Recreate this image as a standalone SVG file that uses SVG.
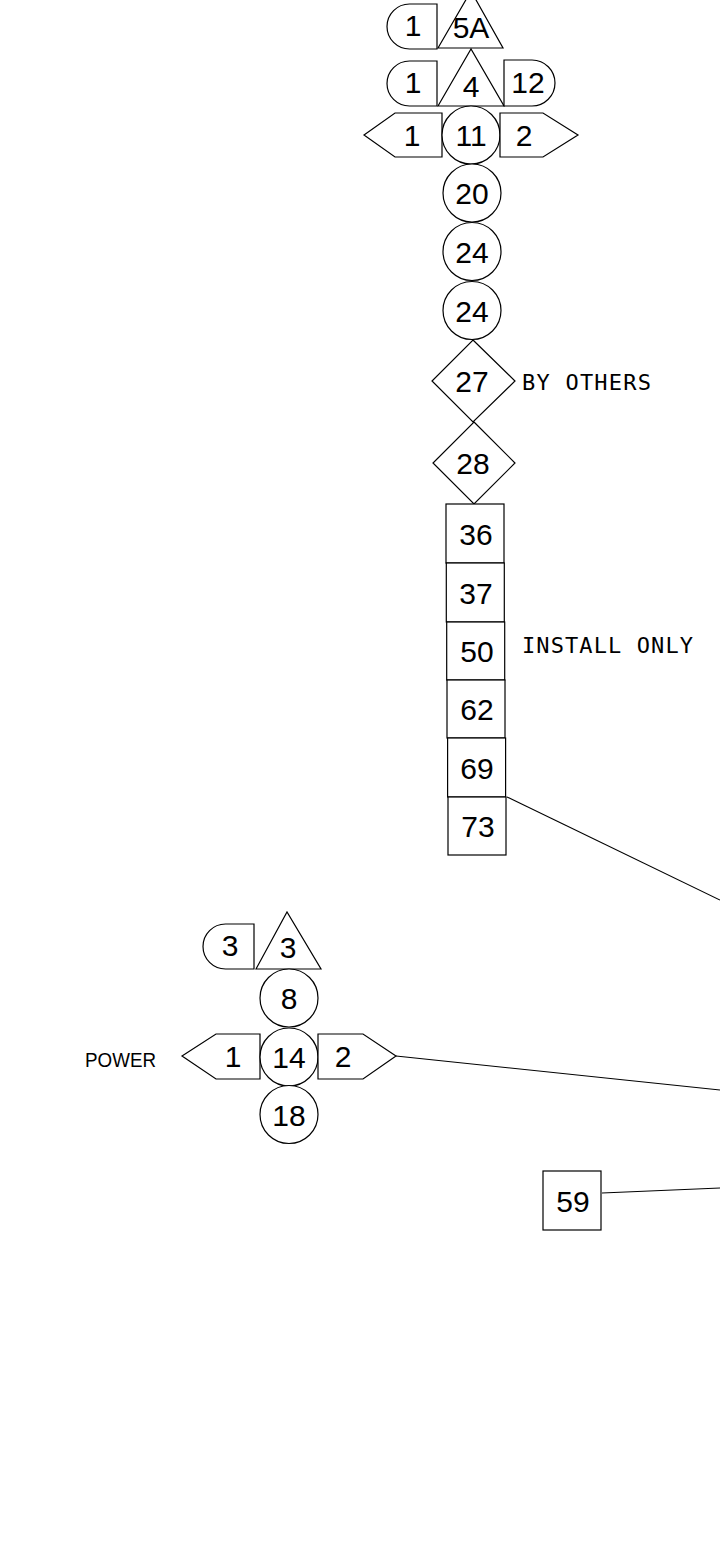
<svg xmlns="http://www.w3.org/2000/svg" width="720" height="1561" viewBox="0 0 720 1561">
<style>
.s{fill:#fff;stroke:#000;stroke-width:1.2}
.c{fill:none;stroke:#000;stroke-width:1.1}
.n{font-family:"Liberation Sans",Arial,sans-serif;font-size:30px;text-anchor:middle;fill:#000}
.l{font-family:"DejaVu Sans Mono",monospace;font-size:22px;fill:#000}
.p{font-family:"Liberation Sans",Arial,sans-serif;font-size:21px;fill:#000}
</style>
<rect width="720" height="1561" fill="#fff"/>
<g id="connectors">
<line class="c" x1="507" y1="797" x2="720" y2="900"/>
<line class="c" x1="396" y1="1056" x2="720" y2="1090"/>
<line class="c" x1="602" y1="1193" x2="720" y2="1188"/>
</g>
<g id="n1a"><path class="s" d="M437,4 H409.5 A22.5,22.5 0 0 0 409.5,49 H437 Z"/><text class="n" x="413" y="36">1</text></g>
<g id="n5A"><path class="s" d="M438,48 L471,-9 L503,48 Z"/><text class="n" x="471" y="38">5A</text></g>
<g id="n1b"><path class="s" d="M437,61 H409.5 A22.5,22.5 0 0 0 409.5,106 H437 Z"/><text class="n" x="413" y="93">1</text></g>
<g id="n4"><path class="s" d="M438,106 L471,49 L504,106 Z"/><text class="n" x="471" y="97">4</text></g>
<g id="n12"><path class="s" d="M504,60 H532 A23,23 0 0 1 532,106 H504 Z"/><text class="n" x="528" y="93">12</text></g>
<g id="n1c"><path class="s" d="M442,113 H395 L364,135 L395,157 H442 Z"/><text class="n" x="412" y="146">1</text></g>
<g id="n11"><circle class="s" cx="471" cy="135" r="29"/><text class="n" x="471" y="146">11</text></g>
<g id="n2a"><path class="s" d="M500,113 H543 L578,135 L543,157 H500 Z"/><text class="n" x="524" y="146">2</text></g>
<g id="n20"><circle class="s" cx="472" cy="193" r="29"/><text class="n" x="472" y="204">20</text></g>
<g id="n24a"><circle class="s" cx="472" cy="251.5" r="29"/><text class="n" x="472" y="262.5">24</text></g>
<g id="n24b"><circle class="s" cx="472" cy="310.5" r="29"/><text class="n" x="472" y="321.5">24</text></g>
<g id="n27"><path class="s" d="M473,340 L515,381 L473,422 L432,381 Z"/><text class="n" x="472" y="392">27</text><text class="l" x="522" y="390" textLength="129" lengthAdjust="spacing">BY OTHERS</text></g>
<g id="n28"><path class="s" d="M474,422 L515,463 L474,504 L433,463 Z"/><text class="n" x="473" y="474">28</text></g>
<g id="n36"><rect class="s" x="446" y="504" width="58" height="59"/><text class="n" x="476" y="544.5">36</text></g>
<g id="n37"><rect class="s" x="446.3" y="563" width="58" height="59"/><text class="n" x="476" y="603.5">37</text></g>
<g id="n50"><rect class="s" x="446.7" y="622" width="58" height="58"/><text class="n" x="477" y="662">50</text><text class="l" x="522" y="653" textLength="171" lengthAdjust="spacing">INSTALL ONLY</text></g>
<g id="n62"><rect class="s" x="447" y="680" width="58" height="58"/><text class="n" x="477" y="720">62</text></g>
<g id="n69"><rect class="s" x="447.6" y="738" width="58" height="59"/><text class="n" x="477" y="778.5">69</text></g>
<g id="n73"><rect class="s" x="448" y="797" width="58" height="58"/><text class="n" x="478" y="837">73</text></g>
<g id="n3a"><path class="s" d="M254,924 H225.5 A22.5,22.5 0 0 0 225.5,969 H254 Z"/><text class="n" x="230" y="956">3</text></g>
<g id="n3b"><path class="s" d="M256,969 L287,912 L321,969 Z"/><text class="n" x="288" y="958">3</text></g>
<g id="n8"><circle class="s" cx="289" cy="998" r="29"/><text class="n" x="289" y="1009">8</text></g>
<g id="n1d"><path class="s" d="M260,1034 H216 L182,1056 L216,1079 H260 Z"/><text class="n" x="233" y="1067">1</text><text class="p" x="85" y="1067" textLength="71" lengthAdjust="spacingAndGlyphs">POWER</text></g>
<g id="n14"><circle class="s" cx="289" cy="1057" r="29"/><text class="n" x="289" y="1068">14</text></g>
<g id="n2b"><path class="s" d="M318,1034 H363 L396,1056 L363,1079 H318 Z"/><text class="n" x="343" y="1067">2</text></g>
<g id="n18"><circle class="s" cx="289" cy="1114.5" r="29"/><text class="n" x="289" y="1125.5">18</text></g>
<g id="n59"><rect class="s" x="543" y="1171" width="58" height="59"/><text class="n" x="573" y="1211.5">59</text></g>
</svg>
